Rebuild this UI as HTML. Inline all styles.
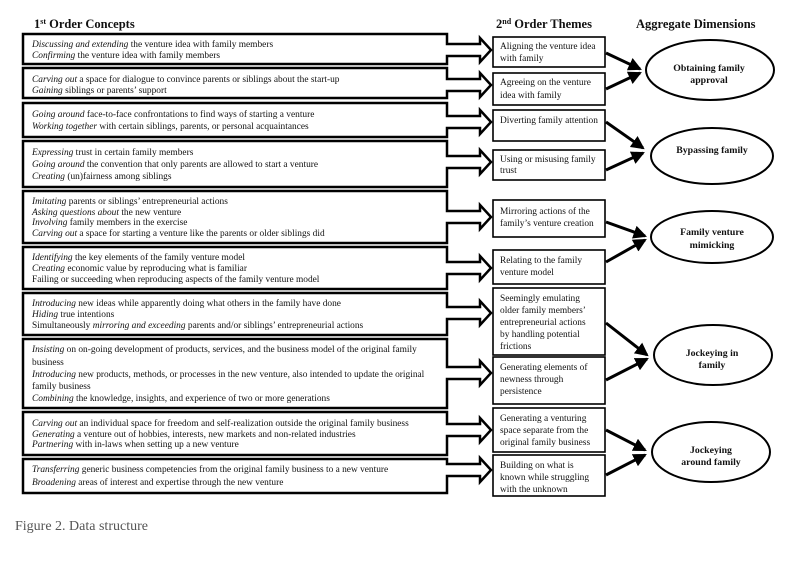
<!DOCTYPE html>
<html><head><meta charset="utf-8"><style>
html,body{margin:0;padding:0;background:#fff;}
svg{display:block;}
text{font-family:"Liberation Serif",serif;fill:#111;}
.t{font-size:9.4px;}
.h{font-size:12.5px;font-weight:bold;}
.e{font-size:9.8px;font-weight:bold;}
</style></head><body>
<svg width="785" height="564" viewBox="0 0 785 564">
<defs><marker id="ah" markerWidth="4.5" markerHeight="4.5" refX="3.8" refY="2.25" orient="auto" markerUnits="strokeWidth"><path d="M0,0 L4.5,2.25 L0,4.5 z" fill="#000"/></marker></defs>
<text class="h" x="34" y="28">1<tspan font-size="8" dy="-4">st</tspan><tspan dy="4"> Order Concepts</tspan></text>
<text class="h" x="496" y="28">2<tspan font-size="8" dy="-4">nd</tspan><tspan dy="4"> Order Themes</tspan></text>
<text class="h" x="636" y="28">Aggregate Dimensions</text>
<g fill="#fff" stroke="#000" stroke-width="2.5" stroke-linejoin="miter">
<polygon points="23,34 447,34 447,44 480,44 480,38 491,50 480,62 480,56 447,56 447,64 23,64"/>
<polygon points="23,68 447,68 447,79 480,79 480,73 491,85 480,97 480,91 447,91 447,98 23,98"/>
<polygon points="23,103 447,103 447,116 480,116 480,110 491,122 480,134 480,128 447,128 447,137 23,137"/>
<polygon points="23,141 447,141 447,156 480,156 480,150 491,162 480,174 480,168 447,168 447,187 23,187"/>
<polygon points="23,191 447,191 447,211 480,211 480,205 491,217 480,229 480,223 447,223 447,243 23,243"/>
<polygon points="23,247 447,247 447,262 480,262 480,256 491,268 480,280 480,274 447,274 447,289 23,289"/>
<polygon points="23,293 447,293 447,307 480,307 480,301 491,313 480,325 480,319 447,319 447,335 23,335"/>
<polygon points="23,339 447,339 447,367 480,367 480,361 491,373 480,385 480,379 447,379 447,408 23,408"/>
<polygon points="23,412 447,412 447,424 480,424 480,418 491,430 480,442 480,436 447,436 447,455 23,455"/>
<polygon points="23,459 447,459 447,464 480,464 480,458 491,470 480,482 480,476 447,476 447,493 23,493"/>
</g>
<g class="t">
<text x="32" y="47"><tspan font-style="italic">Discussing and extending</tspan> the venture idea with family members</text>
<text x="32" y="58"><tspan font-style="italic">Confirming</tspan> the venture idea with family members</text>
<text x="32" y="82"><tspan font-style="italic">Carving out</tspan> a space for dialogue to convince parents or siblings about the start-up</text>
<text x="32" y="93"><tspan font-style="italic">Gaining</tspan> siblings or parents’ support</text>
<text x="32" y="117"><tspan font-style="italic">Going around</tspan> face-to-face confrontations to find ways of starting a venture</text>
<text x="32" y="129"><tspan font-style="italic">Working together</tspan> with certain siblings, parents, or personal acquaintances</text>
<text x="32" y="155"><tspan font-style="italic">Expressing</tspan> trust in certain family members</text>
<text x="32" y="167"><tspan font-style="italic">Going around</tspan> the convention that only parents are allowed to start a venture</text>
<text x="32" y="179"><tspan font-style="italic">Creating</tspan> (un)fairness among siblings</text>
<text x="32" y="204"><tspan font-style="italic">Imitating</tspan> parents or siblings’ entrepreneurial actions</text>
<text x="32" y="215"><tspan font-style="italic">Asking questions about</tspan> the new venture</text>
<text x="32" y="225"><tspan font-style="italic">Involving</tspan> family members in the exercise</text>
<text x="32" y="236"><tspan font-style="italic">Carving out</tspan> a space for starting a venture like the parents or older siblings did</text>
<text x="32" y="260"><tspan font-style="italic">Identifying</tspan> the key elements of the family venture model</text>
<text x="32" y="271"><tspan font-style="italic">Creating</tspan> economic value by reproducing what is familiar</text>
<text x="32" y="282">Failing or succeeding when reproducing aspects of the family venture model</text>
<text x="32" y="306"><tspan font-style="italic">Introducing</tspan> new ideas while apparently doing what others in the family have done</text>
<text x="32" y="317"><tspan font-style="italic">Hiding</tspan> true intentions</text>
<text x="32" y="328">Simultaneously <tspan font-style="italic">mirroring and exceeding</tspan> parents and/or siblings’ entrepreneurial actions</text>
<text x="32" y="352"><tspan font-style="italic">Insisting</tspan> on on-going development of products, services, and the business model of the original family</text>
<text x="32" y="365">business</text>
<text x="32" y="377"><tspan font-style="italic">Introducing</tspan> new products, methods, or processes in the new venture, also intended to update the original</text>
<text x="32" y="389">family business</text>
<text x="32" y="401"><tspan font-style="italic">Combining</tspan> the knowledge, insights, and experience of two or more generations</text>
<text x="32" y="426"><tspan font-style="italic">Carving out</tspan> an individual space for freedom and self-realization outside the original family business</text>
<text x="32" y="437"><tspan font-style="italic">Generating</tspan> a venture out of hobbies, interests, new markets and non-related industries</text>
<text x="32" y="447"><tspan font-style="italic">Partnering</tspan> with in-laws when setting up a new venture</text>
<text x="32" y="472"><tspan font-style="italic">Transferring</tspan> generic business competencies from the original family business to a new venture</text>
<text x="32" y="485"><tspan font-style="italic">Broadening</tspan> areas of interest and expertise through the new venture</text>
</g>
<g fill="#fff" stroke="#000" stroke-width="1.6">
<rect x="493" y="37" width="112" height="30"/>
<rect x="493" y="73" width="112" height="32"/>
<rect x="493" y="110" width="112" height="31"/>
<rect x="493" y="150" width="112" height="30"/>
<rect x="493" y="200" width="112" height="37"/>
<rect x="493" y="250" width="112" height="34"/>
<rect x="493" y="288" width="112" height="67"/>
<rect x="493" y="357" width="112" height="47"/>
<rect x="493" y="408" width="112" height="44"/>
<rect x="493" y="455" width="112" height="41"/>
</g>
<g class="t">
<text x="500" y="49">Aligning the venture idea</text><text x="500" y="61">with family</text>
<text x="500" y="85">Agreeing on the venture</text><text x="500" y="98">idea with family</text>
<text x="500" y="123">Diverting family attention</text>
<text x="500" y="162">Using or misusing family</text><text x="500" y="173">trust</text>
<text x="500" y="214">Mirroring actions of the</text><text x="500" y="226">family’s venture creation</text>
<text x="500" y="263">Relating to the family</text><text x="500" y="275">venture model</text>
<text x="500" y="301">Seemingly emulating</text><text x="500" y="313">older family members’</text><text x="500" y="325">entrepreneurial actions</text><text x="500" y="337">by handling potential</text><text x="500" y="349">frictions</text>
<text x="500" y="370">Generating elements of</text><text x="500" y="382">newness through</text><text x="500" y="394">persistence</text>
<text x="500" y="421">Generating a venturing</text><text x="500" y="433">space separate from the</text><text x="500" y="445">original family business</text>
<text x="500" y="468">Building on what is</text><text x="500" y="480">known while struggling</text><text x="500" y="492">with the unknown</text>
</g>
<g stroke="#000" stroke-width="3" marker-end="url(#ah)">
<line x1="606" y1="53" x2="640" y2="69"/>
<line x1="606" y1="89" x2="640" y2="73"/>
<line x1="606" y1="122" x2="643" y2="148"/>
<line x1="606" y1="170" x2="643" y2="153"/>
<line x1="606" y1="222" x2="645" y2="236"/>
<line x1="606" y1="262" x2="645" y2="240"/>
<line x1="606" y1="323" x2="647" y2="355"/>
<line x1="606" y1="380" x2="647" y2="359"/>
<line x1="606" y1="430" x2="645" y2="450"/>
<line x1="606" y1="475" x2="645" y2="455"/>
</g>
<g fill="#fff" stroke="#000" stroke-width="2">
<ellipse cx="710" cy="70" rx="64" ry="30"/>
<ellipse cx="712" cy="156" rx="61" ry="28"/>
<ellipse cx="712" cy="237" rx="61" ry="26"/>
<ellipse cx="713" cy="355" rx="59" ry="30"/>
<ellipse cx="711" cy="452" rx="59" ry="30"/>
</g>
<g class="e" text-anchor="middle">
<text x="709" y="71">Obtaining family</text><text x="709" y="83">approval</text>
<text x="712" y="153">Bypassing family</text>
<text x="712" y="235">Family venture</text><text x="712" y="248">mimicking</text>
<text x="712" y="356">Jockeying in</text><text x="712" y="368">family</text>
<text x="711" y="453">Jockeying</text><text x="711" y="465">around family</text>
</g>
<text x="15" y="530" style="font-size:14px;fill:#555;">Figure 2. Data structure</text>
</svg>
</body></html>
